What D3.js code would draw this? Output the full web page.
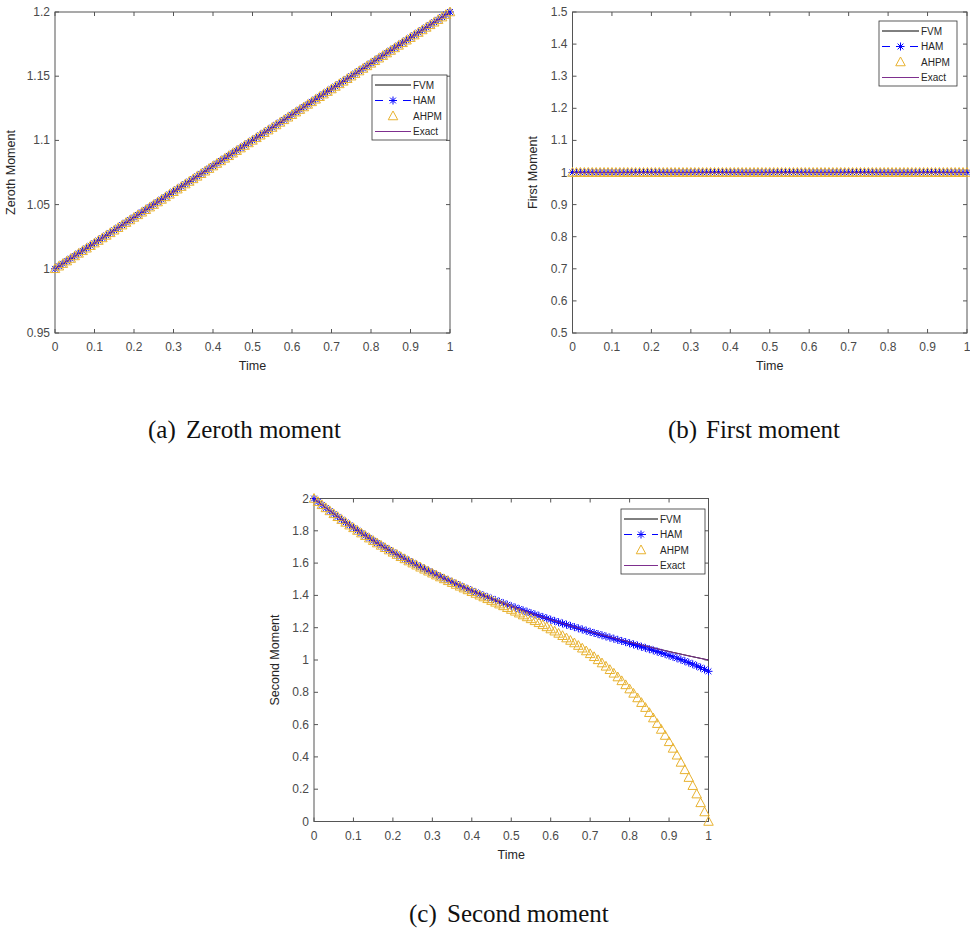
<!DOCTYPE html>
<html>
<head>
<meta charset="utf-8">
<script src="https://cdn.jsdelivr.net/npm/d3@7"></script>
<style>
  body { margin: 0; background: #fff; }
  svg { display: block; }
  .tick-label { font-family: 'Liberation Sans', Arial, sans-serif; font-size: 12px; fill: #4a4a4a; }
  .axis-title { font-family: 'Liberation Sans', Arial, sans-serif; font-size: 12.5px; fill: #262626; }
  .legend-text { font-family: 'Liberation Sans', Arial, sans-serif; font-size: 10px; fill: #262626; }
  .caption { font-family: 'Liberation Serif', 'Times New Roman', serif; font-size: 25px; fill: #111; }
</style>
</head>
<body>
<script>
const width = 970;
const height = 932;

// time steps (s)
const time = [0,0.01,0.02,0.03,0.04,0.05,0.06,0.07,0.08,0.09,0.1,0.11,0.12,0.13,0.14,0.15,0.16,0.17,0.18,0.19,
  0.2,0.21,0.22,0.23,0.24,0.25,0.26,0.27,0.28,0.29,0.3,0.31,0.32,0.33,0.34,0.35,0.36,0.37,0.38,0.39,
  0.4,0.41,0.42,0.43,0.44,0.45,0.46,0.47,0.48,0.49,0.5,0.51,0.52,0.53,0.54,0.55,0.56,0.57,0.58,0.59,
  0.6,0.61,0.62,0.63,0.64,0.65,0.66,0.67,0.68,0.69,0.7,0.71,0.72,0.73,0.74,0.75,0.76,0.77,0.78,0.79,
  0.8,0.81,0.82,0.83,0.84,0.85,0.86,0.87,0.88,0.89,0.9,0.91,0.92,0.93,0.94,0.95,0.96,0.97,0.98,0.99,1];

// zeroth moment: all four methods coincide
const zerothMoment = [1,1.002,1.004,1.006,1.008,1.01,1.012,1.014,1.016,1.018,1.02,1.022,1.024,1.026,1.028,1.03,1.032,1.034,1.036,1.038,
  1.04,1.042,1.044,1.046,1.048,1.05,1.052,1.054,1.056,1.058,1.06,1.062,1.064,1.066,1.068,1.07,1.072,1.074,1.076,1.078,
  1.08,1.082,1.084,1.086,1.088,1.09,1.092,1.094,1.096,1.098,1.1,1.102,1.104,1.106,1.108,1.11,1.112,1.114,1.116,1.118,
  1.12,1.122,1.124,1.126,1.128,1.13,1.132,1.134,1.136,1.138,1.14,1.142,1.144,1.146,1.148,1.15,1.152,1.154,1.156,1.158,
  1.16,1.162,1.164,1.166,1.168,1.17,1.172,1.174,1.176,1.178,1.18,1.182,1.184,1.186,1.188,1.19,1.192,1.194,1.196,1.198,1.2];

// first moment: conserved
const firstMoment = [1,1,1,1,1,1,1,1,1,1,1,1,1,1,1,1,1,1,1,1,1,1,1,1,1,1,1,1,1,1,1,1,1,1,1,1,1,1,1,1,1,1,1,1,1,1,1,1,1,1,
  1,1,1,1,1,1,1,1,1,1,1,1,1,1,1,1,1,1,1,1,1,1,1,1,1,1,1,1,1,1,1,1,1,1,1,1,1,1,1,1,1,1,1,1,1,1,1,1,1,1,1];

// second moment
const secondExact = [2,1.9802,1.9608,1.9417,1.9231,1.9048,1.8868,1.8692,1.8519,1.8349,1.8182,1.8018,1.7857,1.7699,1.7544,1.7391,1.7241,1.7094,1.6949,1.6807,
  1.6667,1.6529,1.6393,1.626,1.6129,1.6,1.5873,1.5748,1.5625,1.5504,1.5385,1.5267,1.5152,1.5038,1.4925,1.4815,1.4706,1.4599,1.4493,1.4388,
  1.4286,1.4184,1.4085,1.3986,1.3889,1.3793,1.3699,1.3605,1.3514,1.3423,1.3333,1.3245,1.3158,1.3072,1.2987,1.2903,1.2821,1.2739,1.2658,1.2579,
  1.25,1.2422,1.2346,1.227,1.2195,1.2121,1.2048,1.1976,1.1905,1.1834,1.1765,1.1696,1.1628,1.1561,1.1494,1.1429,1.1364,1.1299,1.1236,1.1173,
  1.1111,1.105,1.0989,1.0929,1.087,1.0811,1.0753,1.0695,1.0638,1.0582,1.0526,1.0471,1.0417,1.0363,1.0309,1.0256,1.0204,1.0152,1.0101,1.005,1];
const secondFVM = secondExact;
const secondHAM = [2,1.9802,1.9608,1.9417,1.9231,1.9048,1.8868,1.8692,1.8519,1.8349,1.8182,1.8018,1.7857,1.7699,1.7544,1.7391,1.7241,1.7094,1.6949,1.6807,
  1.6667,1.6529,1.6393,1.626,1.6129,1.6,1.5873,1.5748,1.5625,1.5504,1.5385,1.5267,1.5152,1.5038,1.4925,1.4815,1.4706,1.4599,1.4493,1.4388,
  1.4286,1.4184,1.4085,1.3986,1.3889,1.3793,1.3699,1.3605,1.3514,1.3423,1.3333,1.3245,1.3158,1.3072,1.2987,1.2903,1.2821,1.2739,1.2658,1.2579,
  1.2496,1.2417,1.234,1.2263,1.2187,1.2112,1.2037,1.1963,1.189,1.1817,1.1745,1.1673,1.1602,1.1531,1.146,1.139,1.1319,1.1248,1.1178,1.1107,
  1.1036,1.0965,1.0893,1.082,1.0748,1.0673,1.0598,1.0521,1.0443,1.0364,1.0282,1.0198,1.0113,1.0024,0.9932,0.9837,0.9739,0.9636,0.9529,0.9417,0.93];
const secondAHPM = [2,1.9802,1.9608,1.9417,1.9231,1.9048,1.8868,1.8692,1.8519,1.8349,1.8182,1.8018,1.7857,1.7699,1.7544,1.7391,1.7241,1.7094,1.6949,1.6807,
  1.6666,1.6528,1.6391,1.6258,1.6126,1.5996,1.5868,1.5742,1.5617,1.5495,1.5374,1.5253,1.5136,1.5019,1.4902,1.4788,1.4674,1.4562,1.4449,1.4337,
  1.4227,1.4117,1.4008,1.3898,1.3788,1.3679,1.3569,1.3458,1.3349,1.3237,1.3125,1.3012,1.2898,1.2782,1.2665,1.2546,1.2426,1.2302,1.2176,1.2048,
  1.1917,1.1782,1.1645,1.1503,1.1357,1.1207,1.1052,1.0893,1.0728,1.0557,1.0381,1.0198,1.0008,0.9811,0.9607,0.9395,0.9174,0.8944,0.8706,0.8457,
  0.8198,0.7929,0.7648,0.7356,0.7051,0.6734,0.6403,0.6057,0.5698,0.5323,0.4932,0.4525,0.4101,0.3658,0.3197,0.2717,0.2217,0.1696,0.1153,0.0588,0];

const timeTicks = [0,0.1,0.2,0.3,0.4,0.5,0.6,0.7,0.8,0.9,1];
const zerothTicks = [0.95,1,1.05,1.1,1.15,1.2];
const firstTicks = [0.5,0.6,0.7,0.8,0.9,1,1.1,1.2,1.3,1.4,1.5];
const secondTicks = [0,0.2,0.4,0.6,0.8,1,1.2,1.4,1.6,1.8,2];

const methods = ['FVM', 'HAM', 'AHPM', 'Exact'];
const captionLabels = ['(a)', '(b)', '(c)'];
const captionTitles = ['Zeroth moment', 'First moment', 'Second moment'];

const colors = { FVM: '#000000', HAM: '#0000ff', AHPM: '#e8b230', Exact: '#7e2f8e' };
const axisColor = '#555';

const svg = d3
  .select('body')
  .append('svg')
  .attr('width', width)
  .attr('height', height);

function asteriskPath(r) {
  const d = r * 0.72;
  return `M${-r},0H${r}M0,${-r}V${r}M${-d},${-d}L${d},${d}M${-d},${d}L${d},${-d}`;
}
function trianglePath(r) {
  return `M0,${-r}L${r * 0.95},${r * 0.75}L${-r * 0.95},${r * 0.75}Z`;
}

function drawPanel(cfg) {
  const g = svg.append('g');
  const x = d3.scaleLinear().domain([0, 1]).range([cfg.left, cfg.right]);
  const y = d3.scaleLinear().domain(cfg.yDomain).range([cfg.bottom, cfg.top]);
  const fmt = (d) => String(+d.toFixed(2));
  const tickLen = 4;

  // box
  g.append('rect')
    .attr('x', cfg.left)
    .attr('y', cfg.top)
    .attr('width', cfg.right - cfg.left)
    .attr('height', cfg.bottom - cfg.top)
    .attr('fill', 'none')
    .attr('stroke', axisColor)
    .attr('stroke-width', 1);

  // x ticks (bottom + top, inward)
  timeTicks.forEach((t) => {
    g.append('line')
      .attr('x1', x(t)).attr('x2', x(t))
      .attr('y1', cfg.bottom).attr('y2', cfg.bottom - tickLen)
      .attr('stroke', axisColor);
    g.append('line')
      .attr('x1', x(t)).attr('x2', x(t))
      .attr('y1', cfg.top).attr('y2', cfg.top + tickLen)
      .attr('stroke', axisColor);
    g.append('text')
      .attr('class', 'tick-label')
      .attr('x', x(t))
      .attr('y', cfg.bottom + 18)
      .attr('text-anchor', 'middle')
      .text(fmt(t));
  });

  // y ticks (left + right, inward)
  cfg.yTicks.forEach((v) => {
    g.append('line')
      .attr('x1', cfg.left).attr('x2', cfg.left + tickLen)
      .attr('y1', y(v)).attr('y2', y(v))
      .attr('stroke', axisColor);
    g.append('line')
      .attr('x1', cfg.right).attr('x2', cfg.right - tickLen)
      .attr('y1', y(v)).attr('y2', y(v))
      .attr('stroke', axisColor);
    g.append('text')
      .attr('class', 'tick-label')
      .attr('x', cfg.left - 5)
      .attr('y', y(v) + 4)
      .attr('text-anchor', 'end')
      .text(fmt(v));
  });

  // axis titles
  g.append('text')
    .attr('class', 'axis-title')
    .attr('x', (cfg.left + cfg.right) / 2)
    .attr('y', cfg.bottom + 37)
    .attr('text-anchor', 'middle')
    .text('Time');
  g.append('text')
    .attr('class', 'axis-title')
    .attr('transform', `translate(${cfg.left - cfg.ylabelOffset},${(cfg.top + cfg.bottom) / 2}) rotate(-90)`)
    .attr('text-anchor', 'middle')
    .text(cfg.yLabel);

  const line = d3.line().x((d, i) => x(time[i])).y((d) => y(d));

  // FVM
  g.append('path')
    .datum(cfg.series.FVM)
    .attr('d', line)
    .attr('fill', 'none')
    .attr('stroke', colors.FVM)
    .attr('stroke-width', 1);

  // HAM: dashed + asterisks
  g.append('path')
    .datum(cfg.series.HAM)
    .attr('d', line)
    .attr('fill', 'none')
    .attr('stroke', colors.HAM)
    .attr('stroke-dasharray', '6,4')
    .attr('stroke-width', 1);
  g.append('g')
    .selectAll('path')
    .data(cfg.series.HAM)
    .join('path')
    .attr('transform', (d, i) => `translate(${x(time[i])},${y(d)})`)
    .attr('d', asteriskPath(4))
    .attr('fill', 'none')
    .attr('stroke', colors.HAM)
    .attr('stroke-width', 1);

  // AHPM: triangles
  g.append('g')
    .selectAll('path')
    .data(cfg.series.AHPM)
    .join('path')
    .attr('transform', (d, i) => `translate(${x(time[i])},${y(d)})`)
    .attr('d', trianglePath(5))
    .attr('fill', 'none')
    .attr('stroke', colors.AHPM)
    .attr('stroke-width', 1);

  // Exact
  g.append('path')
    .datum(cfg.series.Exact)
    .attr('d', line)
    .attr('fill', 'none')
    .attr('stroke', colors.Exact)
    .attr('stroke-width', 1);

  // legend
  const lg = g.append('g').attr('transform', `translate(${cfg.legend.x},${cfg.legend.y})`);
  const lw = cfg.legend.w;
  lg.append('rect')
    .attr('width', lw)
    .attr('height', 65)
    .attr('fill', '#fff')
    .attr('stroke', '#333')
    .attr('stroke-width', 0.8);
  methods.forEach((m, i) => {
    const yy = 10 + i * 15.5;
    const x0 = 3;
    const x1 = cfg.legend.sample;
    if (m === 'FVM' || m === 'Exact') {
      lg.append('line')
        .attr('x1', x0).attr('x2', x1)
        .attr('y1', yy).attr('y2', yy)
        .attr('stroke', colors[m]);
    } else if (m === 'HAM') {
      lg.append('line')
        .attr('x1', x0).attr('x2', x1)
        .attr('y1', yy).attr('y2', yy)
        .attr('stroke', colors.HAM)
        .attr('stroke-dasharray', '8,6');
      lg.append('path')
        .attr('transform', `translate(${(x0 + x1) / 2},${yy})`)
        .attr('d', asteriskPath(4))
        .attr('fill', 'none')
        .attr('stroke', colors.HAM);
    } else {
      lg.append('path')
        .attr('transform', `translate(${(x0 + x1) / 2},${yy})`)
        .attr('d', trianglePath(5))
        .attr('fill', 'none')
        .attr('stroke', colors.AHPM);
    }
    lg.append('text')
      .attr('class', 'legend-text')
      .attr('x', x1 + 2)
      .attr('y', yy + 3.5)
      .text(m);
  });

  // caption: label and title set apart
  const cap = svg.append('text').attr('class', 'caption').attr('y', cfg.caption.y);
  cap.append('tspan').attr('x', cfg.caption.x).text(cfg.caption.label);
  cap.append('tspan').attr('x', cfg.caption.x + 38).text(cfg.caption.title);
}

drawPanel({
  left: 55, right: 450, top: 12, bottom: 333,
  yDomain: [0.95, 1.2], yTicks: zerothTicks,
  yLabel: 'Zeroth Moment', ylabelOffset: 40,
  series: { FVM: zerothMoment, HAM: zerothMoment, AHPM: zerothMoment, Exact: zerothMoment },
  legend: { x: 372, y: 75, w: 75, sample: 39 },
  caption: { x: 148, y: 438, label: captionLabels[0], title: captionTitles[0] },
});

drawPanel({
  left: 572.5, right: 967, top: 12, bottom: 333,
  yDomain: [0.5, 1.5], yTicks: firstTicks,
  yLabel: 'First Moment', ylabelOffset: 36,
  series: { FVM: firstMoment, HAM: firstMoment, AHPM: firstMoment, Exact: firstMoment },
  legend: { x: 879, y: 21, w: 78, sample: 40 },
  caption: { x: 668, y: 438, label: captionLabels[1], title: captionTitles[1] },
});

drawPanel({
  left: 314, right: 708.5, top: 498.5, bottom: 821.5,
  yDomain: [0, 2], yTicks: secondTicks,
  yLabel: 'Second Moment', ylabelOffset: 35,
  series: { FVM: secondFVM, HAM: secondHAM, AHPM: secondAHPM, Exact: secondExact },
  legend: { x: 621, y: 509, w: 84, sample: 37 },
  caption: { x: 409, y: 922, label: captionLabels[2], title: captionTitles[2] },
});
</script>
</body>
</html>
